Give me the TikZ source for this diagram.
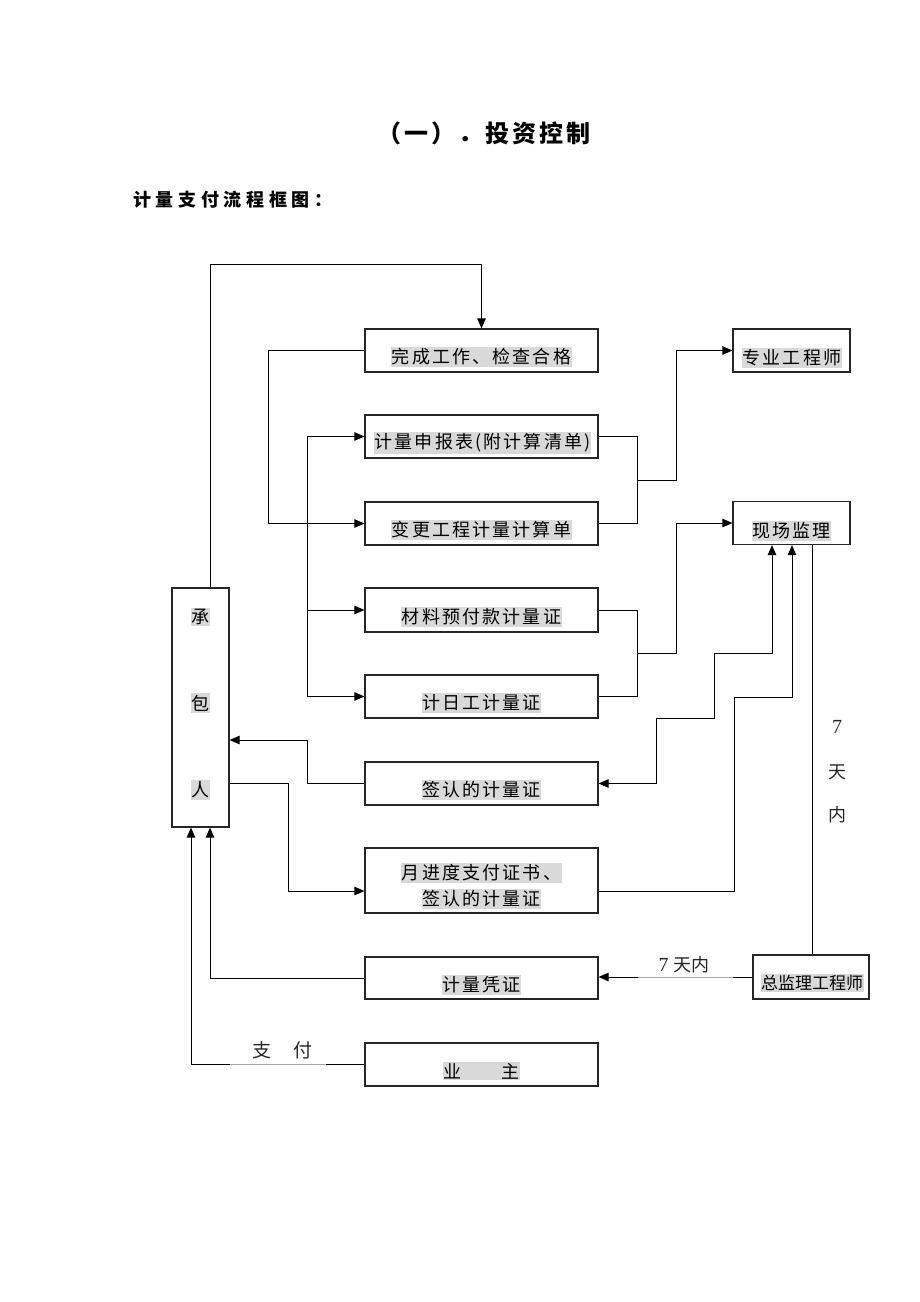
\documentclass[tikz,border=0pt]{standalone}
\usepackage{fontspec}
\setmainfont{Liberation Serif}
\newfontfamily\cjk{Noto Sans CJK SC}
\newfontfamily\cjkls[LetterSpace=12]{Noto Sans CJK SC}
\newfontfamily\cjkt[LetterSpace=12]{Noto Sans CJK SC}
\newfontfamily\cjksub[LetterSpace=26]{Noto Sans CJK SC}
\usetikzlibrary{arrows.meta}
\definecolor{hl}{HTML}{D9D9D9}
\begin{document}
\begin{tikzpicture}[x=1pt,y=-1pt,
  box/.style={draw=black!85, line width=1.2pt, inner sep=0pt, minimum width=233pt, minimum height=43pt},
  rbox/.style={draw=black!85, line width=1.2pt, inner sep=0pt, minimum width=117pt, minimum height=43pt},
  lab/.style={fill=hl, inner xsep=0.5pt, inner ysep=1.5pt, font=\fontsize{18}{18}\selectfont\cjkls},
  plain/.style={inner sep=0pt, font=\fontsize{18}{18}\selectfont\cjk, text=black!85},
  ln/.style={line width=1pt, black},
  arr/.style={ln, -{Triangle[length=10pt,width=8.5pt]}},
  dbl/.style={ln, {Triangle[length=10pt,width=8.5pt]}-{Triangle[length=10pt,width=8.5pt]}}
]
\useasboundingbox (0,0) rectangle (920,1302);

% titles
\node[inner sep=0pt, font=\fontsize{24}{24}\selectfont\cjkt\bfseries] (title) at (484,133) {（一）．投资控制};
\node[inner sep=0pt, anchor=west, font=\fontsize{18}{18}\selectfont\cjksub\bfseries] (sub) at (133,200) {计量支付流程框图：};

% middle column boxes
\node[box] (b1) at (481.5,350.5) {};
\node[box] (b2) at (481.5,436.5) {};
\node[box] (b3) at (481.5,523.5) {};
\node[box, minimum height=44pt] (b4) at (481.5,610) {};
\node[box] (b5) at (481.5,696.5) {};
\node[box] (b6) at (481.5,783.5) {};
\node[box, minimum height=65pt] (b7) at (481.5,880.5) {};
\node[box, minimum height=42pt] (b8) at (481.5,978) {};
\node[box] (b9) at (481.5,1064.5) {};

\node[lab] (t1) at (481.5,357) {完成工作、检查合格};
\node[lab] (t2) at (482.5,443) {计量申报表(附计算清单)};
\node[lab] (t3) at (481.5,530) {变更工程计量计算单};
\node[lab] (t4) at (481.5,617) {材料预付款计量证};
\node[lab] (t5) at (481.5,703) {计日工计量证};
\node[lab] (t6) at (481.5,790) {签认的计量证};
\node[lab] (t7a) at (481.5,873) {月进度支付证书、};
\node[lab] (t7b) at (481.5,899) {签认的计量证};
\node[lab] (t8) at (481.5,985) {计量凭证};
\node[lab] (t9) at (481.5,1071) {业\hspace{40pt}主};

% right boxes
\node[rbox] (r1) at (791.5,350.5) {};
\node[rbox] (r2) at (791.5,523) {};
\node[rbox, minimum width=116pt, minimum height=44pt] (r3) at (811,977) {};
\node[lab] (tr1) at (792,358) {专业工程师};
\node[lab] (tr2) at (791.5,531) {现场监理};
\node[lab, font=\fontsize{17}{17}\selectfont\cjk] (tr3) at (812,983) {总监理工程师};

% left box
\node[draw=black!85, line width=1.2pt, minimum width=57pt, minimum height=239pt, inner sep=0pt] (L) at (200.5,707.5) {};
\node[lab] (c1) at (200,617) {承};
\node[lab] (c2) at (200,703) {包};
\node[lab] (c3) at (200,790) {人};

% connectors
\draw[arr] (L.north -| 210,0) -- (210,264) -| (b1.north);
\draw[arr] (b1.west) -- (b1.west -| 268,0) |- (b3.west);
\draw[arr] (b5.west -| 307,0) |- (b2.west);
\draw[arr] (b4.west -| 307,0) -- (b4.west);
\draw[arr] (b5.west -| 307,0) -- (b5.west);

\draw[ln] (b2.east) -- (b2.east -| 637,0) -- (b3.east -| 637,0) -- (b3.east);
\draw[arr] (637,480) -- (676,480) |- (r1.west);
\draw[ln] (b4.east) -- (b4.east -| 637,0) -- (b5.east -| 637,0) -- (b5.east);
\draw[arr] (637,653) -- (676,653) |- (r2.west);

\draw[dbl] (r2.south -| 772,0) -- (772,653) -- (714,653) -- (714,718) -- (656,718) |- (b6.east);
\draw[arr] (b7.east |- 0,891) -- (734,891) -- (734,697) -- (792,697) -- (r2.south -| 792,0);
\draw[ln] (r3.north -| 812,0) -- (r2.south -| 812,0);
\draw[arr] (r3.west) -- (r3.west -| b8.east);
\draw[line width=1pt, black!35] (638,977) -- (733,977);

\draw[arr] (b6.west) -- (b6.west -| 307,0) |- (L.east |- 0,740);
\draw[arr] (L.east |- b6.west) -- (b6.west -| 288,0) |- (b7.west |- 0,891);
\draw[arr] (b8.west) -| (L.south -| 210,0);
\draw[arr] (b9.west) -| (L.south -| 191,0);
\draw[line width=1pt, black!35] (230,1064.5) -- (326,1064.5);

% labels
\node[plain, font=\fontsize{20}{20}\selectfont\rmfamily] (d7) at (837,727) {7};
\node[plain] (d8) at (837,772) {天};
\node[plain] (d9) at (837,815) {内};
\node[plain] (h7) at (684,965) {{\rmfamily\fontsize{20}{20}\selectfont 7}\hspace{5pt}天内};
\node[plain, font=\fontsize{19}{19}\selectfont\cjk] (p1) at (262,1050) {支};
\node[plain, font=\fontsize{19}{19}\selectfont\cjk] (p2) at (303,1050) {付};
\end{tikzpicture}
\end{document}
